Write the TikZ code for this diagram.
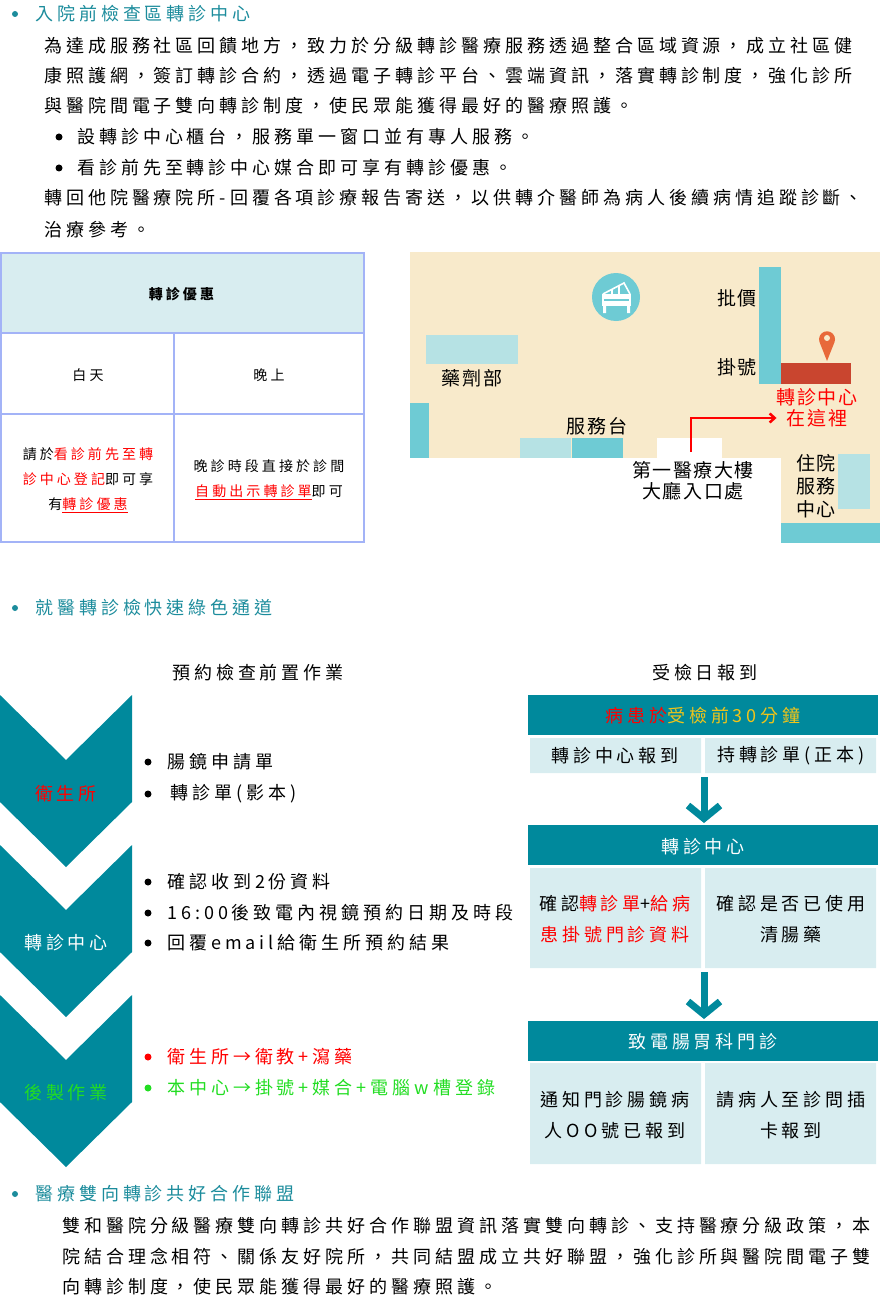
\documentclass[tikz,border=0pt]{standalone}
\usepackage{fontspec}
\setmainfont{Noto Sans CJK TC}[LetterSpace=22]
\newfontfamily\tight{Noto Sans CJK TC}[LetterSpace=8]
\usetikzlibrary{arrows.meta}
\definecolor{teal}{HTML}{00899C}
\definecolor{hteal}{HTML}{1C8C9C}
\definecolor{cell}{HTML}{D8EDF0}
\definecolor{beige}{HTML}{F8EACB}
\definecolor{mteal}{HTML}{6ECBD4}
\definecolor{lteal}{HTML}{B6E2E4}
\definecolor{lav}{HTML}{A3B3F7}
\definecolor{brick}{HTML}{C9452F}
\definecolor{pinc}{HTML}{E8693A}
\definecolor{gold}{HTML}{F0C419}
\definecolor{grn}{HTML}{22DD22}
\begin{document}
\begin{tikzpicture}[x=1pt,y=-1pt,
  txt/.style={anchor=west,inner sep=0,font=\fontsize{18}{20}\selectfont},
  hd/.style={txt,text=hteal},
  dot/.style={circle,fill=#1,inner sep=0,minimum size=7pt},
  tcell/.style={draw=lav,line width=1.5pt},
  ml/.style={align=center,font=\fontsize{14}{25}\selectfont,inner sep=0},
  bar/.style={fill=teal},
  lc/.style={fill=cell},
  ct/.style={align=center,inner sep=0,font=\fontsize{18}{31}\selectfont},
  mapt/.style={inner sep=0,font=\tight\fontsize{19}{21}\selectfont,align=center},
  darr/.style={teal,line width=7pt,-{Straight Barb[length=13pt,width=32pt]}}]
\useasboundingbox (0,0) rectangle (880,1300);
% section 1
\node[dot=hteal,minimum size=6pt] (d1) at (15,14) {};
\node[hd] (h1) at (35,14) {入院前檢查區轉診中心};
\node[txt] (p1) at (44,46) {為達成服務社區回饋地方，致力於分級轉診醫療服務透過整合區域資源，成立社區健};
\node[txt] (p2) at (44,76) {康照護網，簽訂轉診合約，透過電子轉診平台、雲端資訊，落實轉診制度，強化診所};
\node[txt] (p3) at (44,106) {與醫院間電子雙向轉診制度，使民眾能獲得最好的醫療照護。};
\node[dot=black] (b1) at (59,137) {};
\node[txt] (p4) at (77,137) {設轉診中心櫃台，服務單一窗口並有專人服務。};
\node[dot=black] (b2) at (59,168) {};
\node[txt] (p5) at (77,168) {看診前先至轉診中心媒合即可享有轉診優惠。};
\node[txt] (p6) at (44,198) {轉回他院醫療院所-回覆各項診療報告寄送，以供轉介醫師為病人後續病情追蹤診斷、};
\node[txt] (p7) at (44,230) {治療參考。};
% table
\fill[cell] (1,253) rectangle (364,333);
\draw[tcell] (1,253) rectangle (364,542);
\draw[tcell] (1,333) -- (364,333) (1,414) -- (364,414) (174,333) -- (174,542);
\node[ml] (t0) at (183,294) {\textbf{轉診優惠}};
\node[ml] (t1) at (88,375) {白天};
\node[ml] (t2) at (269,375) {晚上};
\node[ml] (t3) at (88,480) {請於\textcolor{red}{看診前先至轉}\\\textcolor{red}{診中心登記}即可享\\有\textcolor{red}{\underline{轉診優惠}}};
\node[ml] (t4) at (269,480) {晚診時段直接於診間\\\textcolor{red}{\underline{自動出示轉診單}}即可};
% map
\fill[beige] (410,252) rectangle (880,458);
\fill[beige] (781,458) rectangle (880,543);
\fill[white] (657,438) rectangle (722,458);
\fill[mteal] (759,267) rectangle (781,384);
\fill[brick] (781,363) rectangle (851,384);
\fill[lteal] (426,335) rectangle (518,364);
\fill[mteal] (410,403) rectangle (429,458);
\fill[lteal] (520,438) rectangle (571,458);
\fill[mteal] (572,438) rectangle (623,458);
\fill[lteal] (838,454) rectangle (870,509);
\fill[mteal] (781,523) rectangle (880,543);
\node[circle,fill=mteal,minimum size=48pt,inner sep=0] (pc) at (616,297) {};
% piano icon
\draw[white,line width=1.6pt] (603,294) -- (624,283) -- (630,294);
\draw[white,line width=1.2pt] (612,289) -- (612,294) (619,286) -- (619,294);
\fill[white] (602,294) rectangle (631,306);
\fill[mteal] (604,299) rectangle (629,301);
\fill[white] (603,306) rectangle (606,313) (627,306) rectangle (630,313);
% pin
\fill[pinc] (827,361) -- (819.5,342) arc[start angle=200,end angle=-20,radius=8pt] -- cycle;
\fill[beige] (827,338) circle[radius=3pt];
\node[mapt] (m1) at (737,298) {批價};
\node[mapt] (m2) at (737,367) {掛號};
\node[mapt] (m3) at (472,378) {藥劑部};
\node[mapt] (m4) at (597,426) {服務台};
\node[mapt,text=red] (m5) at (817,408) {轉診中心\\在這裡};
\node[mapt] (m6) at (693,481) {第一醫療大樓\\大廳入口處};
\node[mapt,font=\tight\fontsize{19}{23}\selectfont] (m7) at (816,486) {住院\\服務\\中心};
\coordinate (ra) at (691,452);
\coordinate (rb) at (691,418);
\draw[red,line width=2.5pt,-{Straight Barb[length=5pt,width=9pt]}] (ra) -- (rb) -- (m5.west|-rb);
% section 2
\node[dot=hteal,minimum size=6pt] (d2) at (15,608) {};
\node[hd] (h2) at (35,608) {就醫轉診檢快速綠色通道};
\node[txt,anchor=center] (s1) at (258,673) {預約檢查前置作業};
\node[txt,anchor=center] (s2) at (705,673) {受檢日報到};
\foreach \t in {695,845,995}{
  \fill[teal] (0,\t) -- (66,\t+65) -- (132,\t) -- (132,\t+107) -- (66,\t+172) -- (0,\t+107) -- cycle;}
\node[ct,text=red] (c1) at (66,794) {衛生所};
\node[ct,text=white] (c2) at (66,943) {轉診中心};
\node[ct,text=grn] (c3) at (66,1093) {後製作業};
\node[dot=black] (e1) at (148,762) {};
\node[txt] (l1) at (167,762) {腸鏡申請單};
\node[dot=black] (e2) at (148,794) {};
\node[txt] (l2) at (170,794) {轉診單(影本)};
\node[dot=black] (e3) at (148,882) {};
\node[txt] (l3) at (167,882) {確認收到2份資料};
\node[dot=black] (e4) at (148,913) {};
\node[txt] (l4) at (167,913) {16:00後致電內視鏡預約日期及時段};
\node[dot=black] (e5) at (148,943) {};
\node[txt] (l5) at (167,943) {回覆email給衛生所預約結果};
\node[dot=red] (e6) at (148,1057) {};
\node[txt,text=red] (l6) at (167,1057) {衛生所→衛教+瀉藥};
\node[dot=grn] (e7) at (148,1088) {};
\node[txt,text=grn] (l7) at (167,1088) {本中心→掛號+媒合+電腦w槽登錄};
% right column
\fill[bar] (528,695) rectangle (878,735);
\node[ct] (r0) at (703,716) {\textcolor{red}{病患於}\textcolor{gold}{受檢前30分鐘}};
\fill[lc] (530,738) rectangle (701,773) (705,738) rectangle (876,773);
\node[ct] (r1) at (615,756) {轉診中心報到};
\node[ct] (r2) at (791,756) {持轉診單(正本)};
\fill[bar] (528,825) rectangle (878,865);
\node[ct,text=white] (r3) at (703,847) {轉診中心};
\fill[lc] (530,868) rectangle (701,968) (705,868) rectangle (876,968);
\node[ct] (r4) at (615,919) {確認\textcolor{red}{轉診單}+\textcolor{red}{給病}\\\textcolor{red}{患掛號門診資料}};
\node[ct] (r5) at (791,919) {確認是否已使用\\清腸藥};
\fill[bar] (528,1021) rectangle (878,1061);
\node[ct,text=white] (r6) at (703,1042) {致電腸胃科門診};
\fill[lc] (530,1063) rectangle (701,1164) (705,1063) rectangle (876,1164);
\node[ct] (r7) at (615,1115) {通知門診腸鏡病\\人OO號已報到};
\node[ct] (r8) at (791,1115) {請病人至診問插\\卡報到};
\coordinate (a1) at (704,777);
\coordinate (a1e) at (704,823);
\coordinate (a2) at (704,972);
\coordinate (a2e) at (704,1019);
\draw[darr] (a1) -- (a1e);
\draw[darr] (a2) -- (a2e);
% section 3
\node[dot=hteal,minimum size=6pt] (d3) at (15,1194) {};
\node[hd] (h3) at (35,1194) {醫療雙向轉診共好合作聯盟};
\node[txt] (q1) at (62,1226) {雙和醫院分級醫療雙向轉診共好合作聯盟資訊落實雙向轉診、支持醫療分級政策，本};
\node[txt] (q2) at (62,1257) {院結合理念相符、關係友好院所，共同結盟成立共好聯盟，強化診所與醫院間電子雙};
\node[txt] (q3) at (62,1287) {向轉診制度，使民眾能獲得最好的醫療照護。};
\end{tikzpicture}
\end{document}
